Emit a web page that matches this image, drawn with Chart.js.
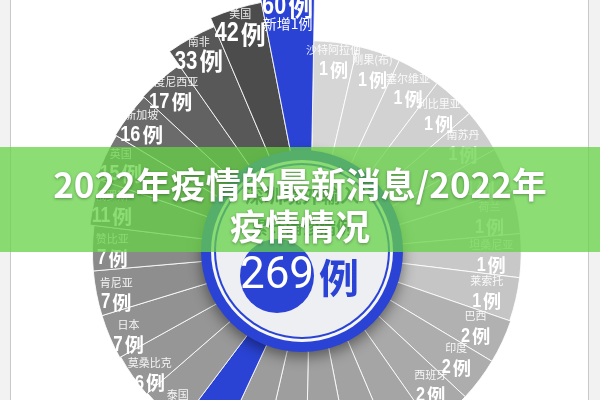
<!DOCTYPE html>
<html lang="zh">
<head>
<meta charset="utf-8">
<script src="https://cdn.jsdelivr.net/npm/chart.js@4"></script>
<style>
  html, body { margin: 0; padding: 0; width: 600px; height: 400px; overflow: hidden; background: #fff; }
  .side { position: absolute; top: 0; height: 400px; background: #f2f2f2; }
  #leftSide { left: 0; width: 10px; border-right: 1px solid #c9c9c9; }
  #rightSide { left: 588px; width: 12px; border-left: 1px solid #c9c9c9; }
  #wrap { position: absolute; left: 0; top: -58px; width: 620px; height: 620px; }
  #banner {
    position: absolute; left: 0; top: 147px; width: 600px; height: 105px;
    background: rgba(100, 210, 70, 0.75);
    color: #fff; text-align: center;
    font: bold 35px "Noto Sans CJK SC", sans-serif; line-height: 42px;
    padding-top: 15px; box-sizing: border-box;
    text-shadow: 0 1px 3px rgba(0, 0, 0, 0.35);
  }
</style>
</head>
<body>
<div class="side" id="leftSide"></div>
<div class="side" id="rightSide"></div>
<div id="wrap"><canvas id="rose"></canvas></div>
<div id="banner"></div>
<script>
// Clockwise from the top, starting right after the blue 60 wedge
const countries = ['沙特阿拉伯', '刚果(布)', '塞尔维亚', '利比里亚', '南苏丹', '', '荷兰', '坦桑尼亚', '莱索托',
  '巴西', '印度', '西班牙', '', '', '', '', '', '', '泰国', '莫桑比克', '日本', '肯尼亚', '赞比亚',
  '俄罗斯', '英国', '新加坡', '印度尼西亚', '南非', '美国', ''];
const cases = [1, 1, 1, 1, 1, 1, 1, 1, 1, 2, 2, 2, 4, 4, 5, 5, 5, 5, 5, 6, 7, 7, 7, 11, 15, 16, 17, 33, 42, 60];
const newCases = [0, 0, 0, 0, 0, 0, 0, 0, 0, 0, 0, 0, 0, 0, 0, 0, 0, 0, 0, 0, 0, 0, 0, 0, 0, 0, 0, 0, 0, 1];
const titleLines = ['2022年疫情的最新消息/2022年', '疫情情况'];
const centerLines = ['深圳境外输入', '累计确诊病例'];

const BLUE = '#2a43d4';
const shades = ['#d6d6d6', '#d4d4d4', '#d2d2d2', '#d0d0d0', '#cecece', '#cccccc', '#cacaca', '#c8c8c8', '#c5c5c5',
  '#b1b1b1', '#adadad', '#a9a9a9', '#a5a5a5', '#a2a2a2', '#a0a0a0', '#9e9e9e', '#9c9c9c', BLUE, '#999999',
  '#969696', '#929292', '#8e8e8e', '#8a8a8a', '#828282', '#777777', '#6b6b6b', '#626262', '#585858', '#4c4c4c', BLUE];

document.getElementById('banner').innerHTML = titleLines.join('<br>');

function circle(ctx, x, y, r, color) {
  ctx.beginPath();
  ctx.arc(x, y, r, 0, Math.PI * 2);
  ctx.fillStyle = color;
  ctx.fill();
}

// Badge in the middle with the total
function drawCenter(ctx, cx, cy) {
  const x = cx - 8, y = cy - 1;
  const total = cases.reduce((a, b) => a + b, 0);
  ctx.save();
  ctx.shadowColor = 'rgba(0,0,0,0.45)';
  ctx.shadowBlur = 14;
  ctx.shadowOffsetY = 5;
  circle(ctx, x, y, 101, BLUE);
  ctx.shadowColor = 'transparent';
  circle(ctx, x, y, 91, '#f6f7fa');
  circle(ctx, x, y, 88, BLUE);
  circle(ctx, x, y, 86, '#eeeff2');

  ctx.textAlign = 'center';
  ctx.textBaseline = 'middle';
  ctx.fillStyle = '#3d4868';
  ctx.font = 'bold 19px "Noto Sans CJK SC"';
  ctx.fillText(centerLines[0], x, y - 55);
  ctx.font = 'bold 17px "Noto Sans CJK SC"';
  ctx.fillText(centerLines[1], x, y - 23);

  circle(ctx, x - 25, y + 25, 37, BLUE);
  ctx.fillStyle = '#fff';
  ctx.font = '44px Roboto';
  ctx.fillText(String(total), x - 25, y + 26);
  ctx.fillStyle = BLUE;
  ctx.font = 'bold 40px "Noto Sans CJK SC"';
  ctx.fillText('例', x + 37, y + 27);
  ctx.restore();
}

// Count text: narrow bold digits followed by 例
function drawCount(ctx, n, x, y, size) {
  const digits = String(n);
  ctx.font = `bold ${size}px "Liberation Sans"`;
  const dw = ctx.measureText(digits).width * 0.8;
  ctx.font = `bold ${size - 2}px "Noto Sans CJK SC"`;
  const cw = ctx.measureText('例').width;
  const left = x - (dw + 2 + cw) / 2;
  ctx.textAlign = 'left';
  ctx.fillText('例', left + dw + 2, y);
  ctx.save();
  ctx.translate(left, y);
  ctx.scale(0.8, 1);
  ctx.font = `bold ${size}px "Liberation Sans"`;
  ctx.fillText(digits, 0, 0);
  ctx.restore();
  ctx.textAlign = 'center';
}

const roseLabels = {
  id: 'roseLabels',
  afterDatasetsDraw(chart) {
    const ctx = chart.ctx;
    const arcs = chart.getDatasetMeta(0).data;
    drawCenter(ctx, arcs[0].x, arcs[0].y);

    ctx.save();
    ctx.textAlign = 'center';
    ctx.textBaseline = 'middle';
    arcs.forEach((arc, i) => {
      const mid = (arc.startAngle + arc.endAngle) / 2;
      const cs = Math.cos(mid), sn = Math.sin(mid);
      const off = 25 + 5 * cs - 8 * Math.max(0, -sn);
      const r = arc.outerRadius - off;
      const x = arc.x + r * cs;
      let y = arc.y + r * sn;
      if (sn > 0) y += cs < 0 ? 15 * sn : -7.5 * sn;

      ctx.fillStyle = '#fff';
      if (countries[i]) {
        ctx.globalAlpha = 0.9;
        ctx.font = '11px "Noto Sans CJK SC"';
        ctx.fillText(countries[i], x, y - 10);
        ctx.globalAlpha = 1;
      }
      drawCount(ctx, cases[i], x, y + 10, 20 + Math.min(7, cases[i] / 6));
      if (newCases[i]) {
        ctx.font = '14px "Noto Sans CJK SC"';
        ctx.fillText('新增' + newCases[i] + '例', x, y + 27);
      }
    });
    ctx.restore();
  }
};

new Chart(document.getElementById('rose'), {
  type: 'polarArea',
  data: {
    labels: countries,
    datasets: [{
      data: cases,
      backgroundColor: shades,
      borderColor: 'rgba(255,255,255,0.85)',
      borderWidth: 1
    }]
  },
  options: {
    responsive: true,
    maintainAspectRatio: false,
    animation: false,
    layout: { padding: 0 },
    plugins: {
      legend: { display: false },
      tooltip: { enabled: false }
    },
    scales: {
      r: { display: false, min: -200, max: 95, startAngle: 1 }
    }
  },
  plugins: [roseLabels]
});
</script>
</body>
</html>
